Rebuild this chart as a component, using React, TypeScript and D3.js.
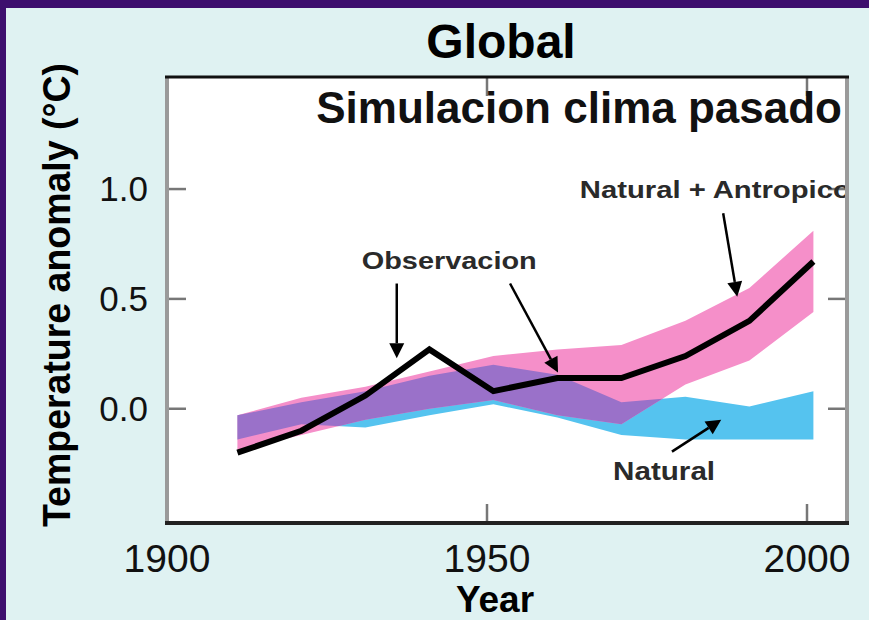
import React from 'react';
import * as d3 from 'd3';

// Decadal values (°C anomaly)
const years = [1911, 1921, 1931, 1941, 1951, 1961, 1971, 1981, 1991, 2001];
const observacion = [-0.2, -0.1, 0.06, 0.27, 0.08, 0.14, 0.14, 0.24, 0.4, 0.67];
const antropicoHi = [-0.03, 0.05, 0.1, 0.17, 0.24, 0.27, 0.29, 0.4, 0.55, 0.81];
const antropicoLo = [-0.19, -0.12, -0.05, 0.0, 0.04, -0.03, -0.07, 0.11, 0.22, 0.44];
const naturalHi = [-0.03, 0.03, 0.08, 0.15, 0.2, 0.155, 0.03, 0.055, 0.01, 0.08];
const naturalLo = [-0.14, -0.07, -0.085, -0.03, 0.02, -0.04, -0.12, -0.14, -0.14, -0.14];

const xTicks = [1900, 1950, 2000];
const yTicks = [0.0, 0.5, 1.0];

const W = 869;
const H = 620;
const FONT = '"Liberation Sans", Arial, Helvetica, sans-serif';

const box = { left: 167, right: 847, top: 77, bottom: 523 };

type Band = { year: number; lo: number; hi: number };

function Arrow({ x1, y1, x2, y2 }: { x1: number; y1: number; x2: number; y2: number }) {
  // line ending in a filled triangle at (x2, y2)
  const ang = Math.atan2(y2 - y1, x2 - x1);
  const len = 15, half = 7.5;
  const bx = x2 - len * Math.cos(ang);
  const by = y2 - len * Math.sin(ang);
  const px = -Math.sin(ang) * half, py = Math.cos(ang) * half;
  return (
    <g>
      <line x1={x1} y1={y1} x2={bx} y2={by} stroke="#000" strokeWidth={2.5} />
      <polygon points={`${x2},${y2} ${bx + px},${by + py} ${bx - px},${by - py}`} fill="#000" />
    </g>
  );
}

export default function App() {
  const x = d3.scaleLinear().domain([1900, 2006.25]).range([box.left, box.right]);
  const y = d3.scaleLinear().domain([-0.52, 1.51]).range([box.bottom, box.top]);

  const antro: Band[] = years.map((yr, i) => ({ year: yr, lo: antropicoLo[i], hi: antropicoHi[i] }));
  const natur: Band[] = years.map((yr, i) => ({ year: yr, lo: naturalLo[i], hi: naturalHi[i] }));

  const area = d3.area<Band>()
    .x(d => x(d.year))
    .y0(d => y(d.lo))
    .y1(d => y(d.hi));

  const line = d3.line<number>()
    .x((_, i) => x(years[i]))
    .y(d => y(d));

  const tickLen = 19;

  return (
    <svg width={W} height={H} style={{ position: 'absolute', left: 0, top: 0 }} fontFamily={FONT}>
      <defs>
        <clipPath id="antroClip">
          <path d={area(antro) || ''} />
        </clipPath>
        <clipPath id="panelClip">
          <rect x={box.left} y={box.top} width={box.right - box.left} height={box.bottom - box.top} />
        </clipPath>
      </defs>

      {/* slide background */}
      <rect x={0} y={0} width={W} height={H} fill="#3d0f6e" />
      <rect x={6} y={8} width={W - 6} height={H - 8} fill="#dff2f2" />

      {/* plot panel */}
      <rect x={box.left} y={box.top} width={box.right - box.left} height={box.bottom - box.top} fill="#fff" />

      {/* bands */}
      <path d={area(natur) || ''} fill="#55c3ef" />
      <path d={area(antro) || ''} fill="#f58fc9" />
      <path d={area(natur) || ''} fill="#9a71c9" clipPath="url(#antroClip)" />

      {/* observation */}
      <path d={line(observacion) || ''} fill="none" stroke="#000" strokeWidth={6} strokeLinejoin="miter" />

      {/* ticks */}
      {yTicks.map(t => (
        <g key={'yt' + t} stroke="#777" strokeWidth={2.5}>
          <line x1={box.left} x2={box.left + tickLen} y1={y(t)} y2={y(t)} />
          <line x1={box.right - tickLen} x2={box.right} y1={y(t)} y2={y(t)} />
        </g>
      ))}
      {xTicks.map(t => (
        <g key={'xt' + t} stroke="#777" strokeWidth={2.5}>
          <line x1={x(t)} x2={x(t)} y1={box.bottom - tickLen} y2={box.bottom} />
          <line x1={x(t)} x2={x(t)} y1={box.top} y2={box.top + tickLen} />
        </g>
      ))}

      {/* annotations */}
      <text x={x(1944.1)} y={y(0.636)} textAnchor="middle" fontSize={24} fontWeight="bold" fill="#2a2a2a"
        textLength={175} lengthAdjust="spacingAndGlyphs">Observacion</text>
      <Arrow x1={x(1935.9)} y1={y(0.57)} x2={x(1935.9)} y2={y(0.23)} />
      <Arrow x1={x(1953.6)} y1={y(0.57)} x2={x(1961.1)} y2={y(0.165)} />

      <g clipPath="url(#panelClip)">
        <text x={x(1964.5)} y={y(0.96)} fontSize={23} fontWeight="bold" fill="#2a2a2a"
          textLength={271} lengthAdjust="spacingAndGlyphs">Natural + Antropico</text>
      </g>
      <Arrow x1={x(1986.9)} y1={y(0.89)} x2={x(1989.1)} y2={y(0.51)} />

      <text x={x(1969.7)} y={y(-0.325)} fontSize={26} fontWeight="bold" fill="#2a2a2a"
        textLength={102} lengthAdjust="spacingAndGlyphs">Natural</text>
      <Arrow x1={x(1978.9)} y1={y(-0.195)} x2={x(1986.6)} y2={y(-0.05)} />

      {/* frame */}
      <line x1={box.left} x2={box.left} y1={box.top} y2={box.bottom} stroke="#9a9a9a" strokeWidth={4} />
      <line x1={box.right} x2={box.right} y1={box.top} y2={box.bottom} stroke="#9a9a9a" strokeWidth={4} />
      <line x1={box.left - 2} x2={box.right + 2} y1={box.top} y2={box.top} stroke="#111" strokeWidth={3} />
      <line x1={box.left - 2} x2={box.right + 2} y1={box.bottom} y2={box.bottom} stroke="#222" strokeWidth={4} />

      {/* titles */}
      <text x={501} y={58} textAnchor="middle" fontSize={48} fontWeight="bold" fill="#000">Global</text>
      <text x={842} y={123} textAnchor="end" fontSize={44} fontWeight="bold" fill="#111">Simulacion clima pasado</text>

      {/* axis labels */}
      {yTicks.map(t => (
        <text key={'yl' + t} x={148} y={y(t) + 12} textAnchor="end" fontSize={35} fill="#111">
          {t.toFixed(1)}
        </text>
      ))}
      {xTicks.map(t => (
        <text key={'xl' + t} x={x(t)} y={572} textAnchor="middle" fontSize={39} fill="#111">{t}</text>
      ))}
      <text x={495} y={612} textAnchor="middle" fontSize={37} fontWeight="bold" fill="#000">Year</text>
      <text transform="translate(70,295) rotate(-90)" textAnchor="middle" fontSize={38} fontWeight="bold" fill="#000"
        textLength={464} lengthAdjust="spacingAndGlyphs">Temperature anomaly (°C)</text>
    </svg>
  );
}
